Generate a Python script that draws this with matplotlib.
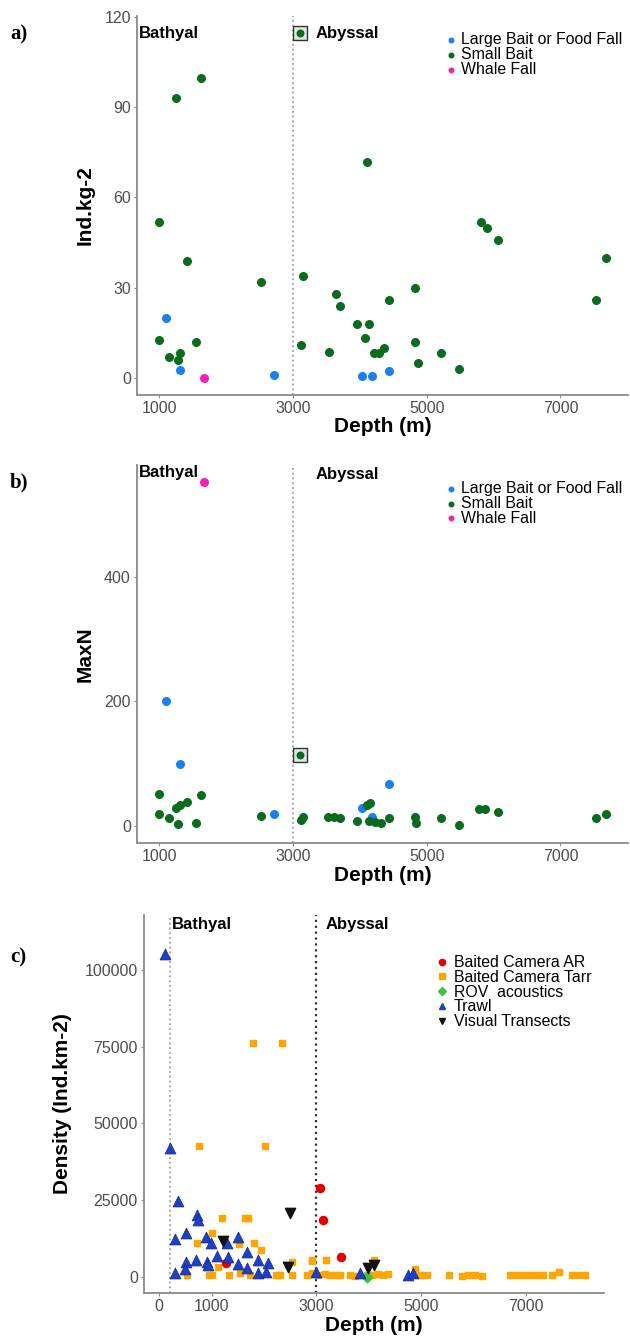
import matplotlib
matplotlib.use('Agg')
import matplotlib.pyplot as plt
from matplotlib.lines import Line2D

plt.rcParams['font.family'] = ['Liberation Sans', 'DejaVu Sans']

# Panel a: Ind.kg-2 vs depth
large_a_depth = [1100, 1310, 2720, 4030, 4175, 4430]
large_a_val = [19.9, 2.5, 0.8, 0.6, 0.6, 2.4]
small_a_depth = [1000, 1000, 1150, 1250, 1280, 1310, 1420, 1550, 1620, 2525,
                 3115, 3150, 3536, 3638, 3707, 3961, 4083, 4100, 4136, 4210,
                 4292, 4360, 4429, 4819, 4829, 4863, 5215, 5478, 5805, 5908,
                 6059, 7538, 7679]
small_a_val = [51.8, 12.7, 7.0, 93.0, 5.9, 8.3, 38.7, 11.9, 99.6, 31.7,
               11.0, 33.7, 8.6, 27.9, 24.0, 17.9, 13.3, 71.7, 17.9, 8.1,
               8.1, 9.8, 25.9, 29.9, 11.9, 5.0, 8.1, 3.0, 51.8, 49.8,
               45.9, 25.9, 39.8]
whale_a_depth = [1675]
whale_a_val = [0]
boxed_a_depth = [3100]
boxed_a_val = [114.5]

# Panel b: MaxN vs depth
large_b_depth = [1100, 1310, 2720, 4028, 4175, 4429]
large_b_val = [200, 100, 18.6, 29.7, 13.8, 68]
small_b_depth = [1000, 1000, 1150, 1250, 1280, 1310, 1420, 1550, 1620, 2525,
                 3120, 3150, 3526, 3609, 3697, 3961, 4100, 4146, 4136, 4229,
                 4317, 4429, 4819, 4839, 5215, 5478, 5781, 5878, 6059, 7528,
                 7679]
small_b_val = [51.5, 18.6, 13.3, 29.7, 2.7, 33.5, 38.8, 5.3, 49.4, 15.9,
               9.6, 13.8, 13.8, 13.8, 12.2, 8.5, 33.5, 37.2, 8.5, 6.9,
               5.3, 12.2, 14.9, 4.2, 12.2, 1.6, 26.6, 26.6, 22.8, 12.2,
               19.1]
whale_b_depth = [1675]
whale_b_val = [552]
boxed_b_depth = [3100]
boxed_b_val = [114]

# Panel c: density vs depth by method
ar_depth = [1275, 3073, 3137, 3474]
ar_val = [4500, 28800, 18480, 6520]
tarr_depth = [758, 2019, 1784, 2344, 1193, 1640, 1700, 1002, 727, 1531,
              1817, 1938, 1131, 523, 957, 1002, 1339, 1543, 1734, 2230,
              2307, 2531, 2531, 2926, 2913, 2914, 3187, 4100, 4890,
              2818, 2945, 3040, 3168, 3264, 3360, 3455, 3646, 3742, 3965,
              4061, 4188, 4283, 4379, 4985, 5113, 5545, 5782, 5908, 6036,
              6164, 6706, 6833, 6960, 7088, 7216, 7343, 7503, 7648, 7885,
              8012, 8140]
tarr_val = [42700, 42700, 76300, 76300, 19020, 19020, 19020, 14130, 10870, 10650,
            10870, 8700, 3040, 540, 540, 540, 540, 1090, 540, 540,
            540, 540, 4890, 5435, 1090, 5100, 5435, 5435, 2390,
            500, 800, 400, 700, 500, 600, 400, 500, 300, 600,
            500, 700, 400, 800, 400, 500, 400, 300, 500, 400,
            300, 400, 400, 400, 400, 400, 500, 400, 1500, 400,
            400, 400]
rov_depth = [3965]
rov_val = [0]
trawl_depth = [108, 204, 351, 715, 746, 300, 505, 893, 988, 1300,
               1499, 1683, 1097, 1307, 505, 702, 905, 937, 1499, 1893,
               2085, 1683, 300, 491, 1893, 2040, 2996, 3838, 4761, 4857]
trawl_val = [105100, 41850, 24780, 20100, 18480, 12170, 14130, 13040, 10870, 10870,
             12830, 8150, 6850, 6520, 4890, 5435, 4890, 3800, 4130, 5435,
             4565, 2720, 1090, 2390, 1090, 1410, 1630, 1090, 540, 1090]
visual_depth = [2499, 1211, 2467, 3997, 4106]
visual_val = [20870, 11740, 3260, 2720, 3800]

axis_grey = '#8a8a8a'
tick_grey = '#4d4d4d'


def style_axes(ax):
    for side in ['top', 'right']:
        ax.spines[side].set_visible(False)
    for side in ['left', 'bottom']:
        ax.spines[side].set_color(axis_grey)
        ax.spines[side].set_linewidth(1.3)
    ax.tick_params(colors=axis_grey, labelcolor=tick_grey, labelsize=11.5,
                   length=2.5, width=0.8, pad=2)


fig = plt.figure(figsize=(6.3, 13.37), dpi=100)

# ---------- a) ----------
ax1 = fig.add_axes([0.2175, 0.7046, 0.7795, 0.2834])
style_axes(ax1)
ax1.axvline(3000, ls=':', color='#a0a0a0', lw=1.3, zorder=1)
ax1.scatter(large_a_depth, large_a_val, s=30, color='#1a80f0', label='Large Bait or Food Fall', zorder=3)
ax1.scatter(small_a_depth, small_a_val, s=30, color='#0a6b1e', label='Small Bait', zorder=3)
ax1.scatter(whale_a_depth, whale_a_val, s=30, color='#f51fb8', label='Whale Fall', zorder=3)
ax1.scatter(boxed_a_depth, boxed_a_val, s=95, marker='s', facecolor='#dbe7db', edgecolor='#333333', lw=1.0, zorder=2)
ax1.scatter(boxed_a_depth, boxed_a_val, s=22, color='#0a6b1e', zorder=3)
ax1.text(690, 114.5, 'Bathyal', fontsize=12, fontweight='bold', ha='left', va='center')
ax1.text(3330, 114.5, 'Abyssal', fontsize=12, fontweight='bold', ha='left', va='center')
ax1.set_xlim(666, 8013)
ax1.set_ylim(-5.7, 120.2)
ax1.set_xticks([1000, 3000, 5000, 7000])
ax1.set_yticks([0, 30, 60, 90, 120])
ax1.set_xlabel('Depth (m)', fontsize=15, fontweight='bold', va='center')
ax1.set_ylabel('Ind.kg-2', fontsize=15, fontweight='bold', va='center')
ax1.xaxis.set_label_coords(0.5, -0.084)
ax1.yaxis.set_label_coords(-0.106, 0.5)
ax1.legend(loc='upper left', bbox_to_anchor=(0.627, 0.957), frameon=False, fontsize=11.4,
           borderpad=0, handletextpad=0.2, handlelength=0.8, labelspacing=-0.02,
           markerscale=0.6, borderaxespad=0)

# ---------- b) ----------
ax2 = fig.add_axes([0.2175, 0.3693, 0.7795, 0.2829])
style_axes(ax2)
ax2.axvline(3000, ls=':', color='#a0a0a0', lw=1.3, zorder=1)
ax2.scatter(large_b_depth, large_b_val, s=30, color='#1a80f0', label='Large Bait or Food Fall', zorder=3)
ax2.scatter(small_b_depth, small_b_val, s=30, color='#0a6b1e', label='Small Bait', zorder=3)
ax2.scatter(whale_b_depth, whale_b_val, s=30, color='#f51fb8', label='Whale Fall', zorder=3)
ax2.scatter(boxed_b_depth, boxed_b_val, s=95, marker='s', facecolor='#dbe7db', edgecolor='#333333', lw=1.0, zorder=2)
ax2.scatter(boxed_b_depth, boxed_b_val, s=22, color='#0a6b1e', zorder=3)
ax2.text(690, 567, 'Bathyal', fontsize=12, fontweight='bold', ha='left', va='center')
ax2.text(3330, 565, 'Abyssal', fontsize=12, fontweight='bold', ha='left', va='center')
ax2.set_xlim(666, 8013)
ax2.set_ylim(-27.6, 579.6)
ax2.set_xticks([1000, 3000, 5000, 7000])
ax2.set_yticks([0, 200, 400])
ax2.set_xlabel('Depth (m)', fontsize=15, fontweight='bold', va='center')
ax2.set_ylabel('MaxN', fontsize=15, fontweight='bold', va='center')
ax2.xaxis.set_label_coords(0.5, -0.084)
ax2.yaxis.set_label_coords(-0.106, 0.5)
ax2.legend(loc='upper left', bbox_to_anchor=(0.627, 0.957), frameon=False, fontsize=11.4,
           borderpad=0, handletextpad=0.2, handlelength=0.8, labelspacing=-0.02,
           markerscale=0.6, borderaxespad=0)

# ---------- c) ----------
ax3 = fig.add_axes([0.2286, 0.0332, 0.7302, 0.2825])
style_axes(ax3)
ax3.axvline(200, ls=':', color='#a0a0a0', lw=1.3, zorder=1)
ax3.axvline(3000, ls=':', color='#333333', lw=1.6, zorder=1)
ax3.scatter(tarr_depth, tarr_val, s=20, marker='s', color='#ffa500', label='Baited Camera Tarr', zorder=3)
ax3.scatter(ar_depth, ar_val, s=34, color='#e80000', label='Baited Camera AR', zorder=4)
ax3.scatter(rov_depth, rov_val, s=30, marker='D', color='#3cc43c', label='ROV  acoustics', zorder=4)
ax3.scatter(trawl_depth, trawl_val, s=62, marker='^', color='#1f3fc4', edgecolor='#102a90', lw=0.5, label='Trawl', zorder=4)
ax3.scatter(visual_depth, visual_val, s=55, marker='v', color='#111111', label='Visual Transects', zorder=5)
ax3.text(237, 114700, 'Bathyal', fontsize=12, fontweight='bold', ha='left', va='center')
ax3.text(3187, 114700, 'Abyssal', fontsize=12, fontweight='bold', ha='left', va='center')
ax3.set_xlim(-290, 8500)
ax3.set_ylim(-5220, 117900)
ax3.set_xticks([0, 1000, 3000, 5000, 7000])
ax3.set_yticks([0, 25000, 50000, 75000, 100000])
ax3.set_xlabel('Depth (m)', fontsize=15, fontweight='bold', va='center')
ax3.set_ylabel('Density (Ind.km-2)', fontsize=15, fontweight='bold', va='center')
ax3.xaxis.set_label_coords(0.5, -0.086)
ax3.yaxis.set_label_coords(-0.178, 0.5)
handles = [
    Line2D([], [], ls='', marker='o', color='#e80000', markersize=4.5),
    Line2D([], [], ls='', marker='s', color='#ffa500', markersize=4.5),
    Line2D([], [], ls='', marker='D', color='#3cc43c', markersize=4),
    Line2D([], [], ls='', marker='^', color='#1f3fc4', markersize=5),
    Line2D([], [], ls='', marker='v', color='#111111', markersize=5),
]
labels = ['Baited Camera AR', 'Baited Camera Tarr', 'ROV  acoustics', 'Trawl', 'Visual Transects']
ax3.legend(handles, labels, loc='upper left', bbox_to_anchor=(0.635, 0.893), frameon=False,
           fontsize=11.4, borderpad=0, handletextpad=0.3, handlelength=0.8,
           labelspacing=-0.02, borderaxespad=0)

# panel letters
fig.text(0.016, 1 - 34 / 1337, 'a)', fontfamily='Liberation Serif', fontweight='bold', fontsize=15, va='center')
fig.text(0.016, 1 - 482 / 1337, 'b)', fontfamily='Liberation Serif', fontweight='bold', fontsize=15, va='center')
fig.text(0.016, 1 - 957 / 1337, 'c)', fontfamily='Liberation Serif', fontweight='bold', fontsize=15, va='center')

fig.savefig('out.png', dpi=100)
